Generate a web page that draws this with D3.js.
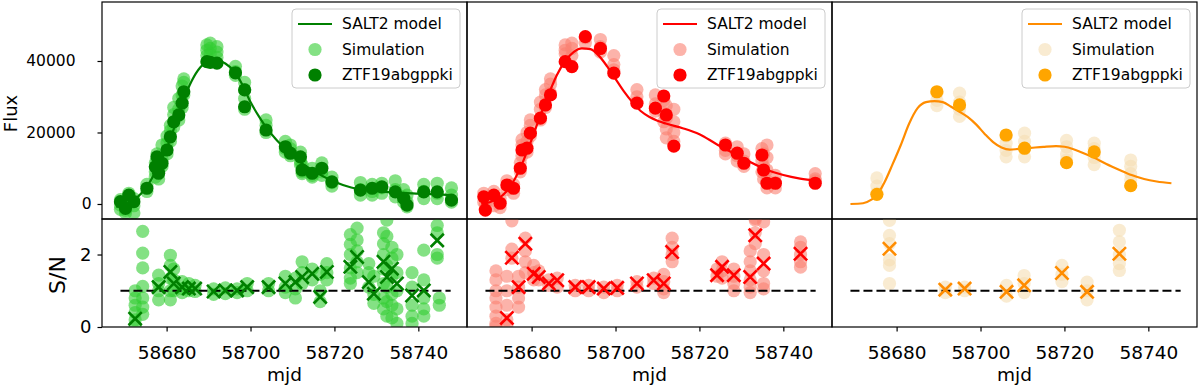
<!DOCTYPE html>
<html>
<head>
<meta charset="utf-8">
<script src="https://cdn.jsdelivr.net/npm/d3@7"></script>
<style>
  body { margin: 0; background: #fff; }
  svg { font-family: "DejaVu Sans", sans-serif; }
</style>
</head>
<body>
<svg></svg>
<script>
// ---- data ----
const xTicks = [58680, 58700, 58720, 58740];
const fluxTicks = [0, 20000, 40000];
const snTicks = [0, 2];
const legendLabels = ["SALT2 model", "Simulation", "ZTF19abgppki"];
const unityRange = [58669.0, 58747.7];

// g band
const gModelMjd = [58668, 58670, 58672, 58674, 58676, 58678, 58680, 58682, 58684, 58686, 58688, 58690, 58692, 58694, 58696, 58698, 58700, 58702, 58704, 58706, 58708, 58710, 58712, 58714, 58716, 58718, 58720, 58724, 58728, 58732, 58736, 58740, 58744, 58748];
const gModelFlux = [-800, -200, 1000, 3000, 6200, 10500, 15500, 22000, 29000, 34500, 38200, 40000, 40200, 39300, 37200, 33500, 28500, 24500, 21000, 18200, 15800, 13600, 11600, 10000, 8600, 7300, 6200, 4600, 3800, 3400, 3100, 2900, 2700, 2500];
const gObsMjd = [58669.0, 58670.2, 58671.0, 58672.2, 58675.3, 58677.3, 58677.7, 58678.1, 58678.9, 58680.1, 58680.9, 58681.7, 58682.9, 58683.7, 58684.1, 58689.6, 58690.4, 58692.0, 58696.4, 58698.6, 58698.6, 58703.7, 58708.3, 58709.5, 58711.9, 58712.3, 58714.7, 58717.0, 58719.4, 58726.2, 58729.0, 58731.3, 58734.5, 58736.5, 58737.3, 58741.3, 58744.5, 58747.9];
const gObsFlux = [650, -1200, 2500, 650, 4400, 10400, 13200, 8600, 11400, 15100, 18800, 23000, 24900, 28200, 31400, 39800, 39600, 39400, 36700, 31900, 27200, 20700, 16000, 14200, 13200, 9500, 8600, 10000, 6200, 3900, 4400, 4800, 3400, 1600, -300, 3400, 3400, 1100];
const gSimFlux = [
  [58669.0, [1200, -300, -1500]], [58670.2, [500, -1800, -2500]], [58671.0, [3000, 1500]],
  [58672.2, [1500, -500, -2500]], [58675.3, [5500, 3500]], [58677.3, [11500, 9000, 7500]],
  [58677.7, [14000, 12000]], [58678.1, [9500, 7000]], [58678.9, [12500, 10500, 16500]],
  [58680.1, [17000, 14000, 19000]], [58680.9, [20500, 17500, 22000]], [58681.7, [25000, 21500, 27000]],
  [58682.9, [26500, 23500, 29500]], [58683.7, [30500, 27000, 33000]], [58684.1, [34000, 30500, 35000]],
  [58689.6, [43000, 41500, 44500]], [58690.4, [43500, 42000, 45000]], [58692.0, [42500, 44000, 41000]],
  [58696.4, [38500, 37000, 36000]], [58698.6, [34000, 32000, 29500, 26500]], [58703.7, [23500, 22000, 20000]],
  [58708.3, [17500, 15500, 14500]], [58709.5, [15500, 13500, 16500]], [58711.9, [14500, 12000, 11000]],
  [58712.3, [11000, 9000, 8500]], [58714.7, [10000, 8000, 7500]], [58717.0, [11500, 9000, 8000]],
  [58719.4, [7500, 6000, 5000]], [58726.2, [6000, 4000, 2500]], [58729.0, [5500, 3500, 2500]],
  [58731.3, [5800, 4500, 3000]], [58734.5, [6500, 4000, 2000]], [58736.5, [4000, 2000, 500]],
  [58737.3, [2500, 500, -800]], [58741.3, [5500, 3500, 1500]], [58744.5, [5800, 3000, 1500]],
  [58747.9, [4500, 2500, 500]]
];
const gSnMjd = [58672.5, 58678.1, 58680.9, 58681.7, 58683.7, 58685.3, 58686.8, 58691.2, 58694.0, 58696.8, 58699.2, 58704.3, 58708.3, 58710.7, 58712.3, 58714.7, 58716.6, 58718.2, 58723.8, 58725.4, 58728.2, 58729.4, 58731.7, 58732.5, 58733.7, 58734.9, 58738.5, 58741.3, 58744.5];
const gSn = [0.23, 1.10, 1.52, 1.20, 1.10, 1.06, 1.06, 0.98, 1.01, 1.01, 1.10, 1.10, 1.20, 1.24, 1.38, 1.47, 0.83, 1.52, 1.66, 1.93, 1.24, 0.92, 1.80, 1.38, 1.61, 1.20, 0.87, 1.01, 2.39];
const gSimSn = [
  [58672.5, [1.0, 0.8, 0.6, 0.4, 0.2, 0.05]], [58674.3, [2.64, 2.04, 1.63, 1.12, 0.8, 0.55, 0.35]],
  [58678.1, [1.43, 1.2, 1.0, 0.75]], [58680.9, [1.98, 1.7, 1.34, 1.0, 0.75]], [58681.7, [1.6, 1.3, 1.0]],
  [58683.7, [1.25, 1.05, 0.95]], [58685.3, [1.2, 1.0]], [58686.8, [1.15, 0.98]], [58691.2, [1.05, 0.9]],
  [58694.0, [1.08, 0.92]], [58696.8, [1.05, 0.95]], [58699.2, [1.2, 1.0]], [58704.3, [1.2, 1.0]],
  [58708.3, [1.4, 1.1, 0.95]], [58710.7, [1.35, 1.05, 0.8]], [58712.3, [1.8, 1.5, 1.2]],
  [58714.7, [1.6, 1.3]], [58716.6, [1.45, 1.0, 0.7]], [58718.2, [1.75, 1.5, 1.3]],
  [58723.8, [2.55, 2.28, 2.0, 1.63, 1.35, 1.2]], [58725.4, [2.73, 2.4, 2.1, 1.8, 1.5]],
  [58728.2, [1.75, 1.5, 1.1]], [58729.4, [1.4, 0.9, 0.65]], [58731.7, [2.6, 2.3, 2.0, 1.6, 1.2, 0.8, 0.5]],
  [58732.5, [2.95, 2.5, 1.7, 1.1, 0.7, 0.3]], [58733.7, [2.2, 1.9, 1.4, 0.9, 0.6, 0.25]],
  [58734.9, [2.0, 1.5, 1.0, 0.5, 0.1]], [58738.5, [1.5, 1.1, 0.6, 0.3, 0.1]],
  [58741.3, [2.12, 1.3, 0.8, 0.5, 0.3]], [58744.5, [2.8, 2.6, 2.0, 1.9]], [58745.0, [0.8, 0.6]]
];

// r band
const rModelMjd = [58668, 58670, 58672, 58674, 58676, 58678, 58680, 58682, 58684, 58686, 58688, 58690, 58692, 58694, 58696, 58698, 58700, 58702, 58704, 58706, 58708, 58710, 58712, 58716, 58720, 58724, 58728, 58732, 58736, 58740, 58744, 58748];
const rModelFlux = [0, 500, 1500, 3500, 7000, 12000, 18000, 24500, 30500, 36000, 40000, 42500, 43500, 43300, 41500, 38500, 35000, 31500, 28500, 26000, 24400, 23300, 22500, 21200, 19500, 16800, 14300, 11800, 9600, 8100, 7100, 6500];
const rObsMjd = [58668.6, 58668.97, 58671.0, 58672.5, 58674.1, 58675.7, 58677.3, 58677.7, 58678.9, 58679.7, 58682.1, 58683.3, 58684.5, 58688.0, 58689.6, 58692.8, 58696.4, 58699.6, 58705.1, 58709.5, 58711.5, 58712.1, 58713.9, 58726.2, 58729.0, 58730.6, 58734.9, 58735.3, 58736.1, 58738.1, 58747.6];
const rObsFlux = [2000, -1700, 2500, 200, 5300, 4400, 10000, 15100, 15600, 19800, 24000, 27700, 30500, 39800, 38400, 46800, 43500, 36600, 28200, 26800, 30200, 24900, 16200, 16500, 14200, 11400, 13700, 9500, 5800, 5800, 5800];
const rSimFlux = [
  [58668.6, [3000, 500]], [58668.97, [0, -1500]], [58671.0, [3500, 1000, -500]], [58672.5, [1500, -1000]],
  [58674.1, [6500, 4000]], [58675.7, [5500, 3000]], [58677.3, [11500, 9000]], [58677.7, [16500, 13500, 18000]],
  [58678.9, [17500, 14500, 20000]], [58679.7, [22000, 19000, 23500]], [58682.1, [26500, 23500, 28500]],
  [58683.3, [30500, 27000, 32000]], [58684.5, [33500, 31000, 35000]], [58688.0, [44500, 43000, 42000]],
  [58689.6, [45000, 43500, 41500]], [58692.8, [46500, 45000]], [58696.4, [46000, 44000, 42500]],
  [58699.6, [41500, 39000, 37500]], [58705.1, [32000, 30000, 28500]], [58709.5, [30500, 28000, 26000]],
  [58711.5, [29000, 25500, 23000]], [58712.1, [27500, 24000, 21000, 18500]], [58713.9, [26500, 23000, 20000, 17500]],
  [58726.2, [17000, 15000, 14000]], [58729.0, [16000, 13500, 12000]], [58730.6, [14000, 12000, 10500]],
  [58734.9, [15500, 12000, 9000]], [58735.3, [14000, 10500, 7000]], [58736.1, [16500, 13000, 9500, 6500, 4500]],
  [58738.1, [8000, 6000, 4500]], [58747.6, [8500, 7000, 6500]]
];
const rSnMjd = [58674.1, 58675.3, 58676.9, 58678.5, 58680.5, 58681.7, 58684.1, 58686.1, 58690.4, 58693.6, 58697.2, 58700.4, 58705.1, 58709.1, 58711.5, 58713.5, 58724.2, 58725.4, 58728.2, 58732.1, 58733.3, 58735.3, 58744.1];
const rSn = [0.25, 1.91, 1.10, 2.30, 1.47, 1.38, 1.20, 1.29, 1.10, 1.10, 1.06, 1.08, 1.20, 1.29, 1.20, 2.07, 1.43, 1.66, 1.43, 1.38, 2.53, 1.75, 2.02];
const rSimSn = [
  [58671.5, [1.55, 1.3, 1.0, 0.8, 0.55, 0.3, 0.1, 0.02]], [58674.1, [1.4, 1.0, 0.6, 0.2, 0.05]],
  [58675.3, [2.93, 2.15, 1.9]], [58676.9, [1.4, 1.1, 0.8, 0.55]], [58678.5, [2.45, 2.1, 1.8, 1.5]],
  [58680.5, [1.7, 1.5, 1.3]], [58681.7, [1.55, 1.3]], [58684.1, [1.3, 1.15]], [58686.1, [1.35, 1.1]],
  [58690.4, [1.15, 1.0]], [58693.6, [1.15, 1.0]], [58697.2, [1.1, 0.95]], [58700.4, [1.15, 1.0]],
  [58705.1, [1.25, 1.1]], [58709.1, [1.35, 1.2]], [58711.5, [1.45, 1.25, 1.05, 0.95]],
  [58713.5, [2.45, 2.2, 2.0, 1.8]], [58724.2, [1.6, 1.4]], [58725.4, [1.8, 1.55, 1.35]],
  [58728.2, [1.6, 1.4, 1.2, 1.0]], [58732.1, [2.1, 1.8, 1.55, 1.3, 1.1, 0.95]],
  [58733.3, [3.0, 2.95, 2.6, 2.3]], [58735.3, [2.9, 2.0, 1.55, 1.2, 1.05]],
  [58744.1, [2.35, 2.2, 2.0, 1.8, 1.65]]
];

// i band
const iModelMjd = [58669, 58672, 58674, 58675, 58677, 58679, 58681, 58683, 58685, 58687, 58689, 58691, 58693, 58695, 58697, 58699, 58701, 58703, 58705, 58707, 58709, 58712, 58715, 58718, 58720, 58722, 58724, 58727, 58730, 58733, 58736, 58739, 58742, 58745.5];
const iModelFlux = [0, 200, 1200, 2100, 5800, 11000, 16500, 22500, 26800, 28500, 28800, 28500, 27200, 25800, 24300, 22200, 19600, 17300, 15800, 15200, 15400, 15700, 16000, 16200, 16000, 15400, 14500, 13000, 11200, 9600, 8100, 7000, 6300, 5800];
const iObsMjd = [58675.3, 58689.6, 58695.0, 58706.1, 58710.5, 58720.5, 58727.1, 58735.8];
const iObsFlux = [2700, 31400, 27700, 19300, 15600, 11550, 14550, 5120];
const iSimFlux = [
  [58675.3, [7300, 5000, 3000]], [58689.6, [31000, 29000, 27500]], [58695.0, [31000, 28500, 26500, 24500]],
  [58706.1, [19000, 17000, 15000, 13200]], [58710.5, [19800, 17500, 15500, 13200]],
  [58720.5, [17800, 16000, 14000, 12300]], [58727.1, [17000, 15500, 13000, 11000]],
  [58735.8, [12300, 10500, 8500, 6800]]
];
const iSnMjd = [58678.3, 58691.6, 58696.2, 58706.2, 58710.4, 58719.4, 58725.4, 58733.1];
const iSn = [2.16, 1.03, 1.06, 0.97, 1.15, 1.49, 0.97, 2.02];
const iSimSn = [
  [58678.3, [2.94, 2.53, 2.3, 1.85, 1.7, 1.2]], [58691.6, [1.1, 0.95]], [58696.2, [1.1, 1.0]],
  [58706.2, [1.15, 0.85]], [58710.4, [1.42, 1.2, 0.95]], [58719.4, [1.7, 1.45, 1.25]],
  [58725.4, [1.24, 1.0, 0.75]], [58733.1, [2.67, 2.35, 2.0, 1.75, 1.56]]
];

const bands = [
  { modelMjd: gModelMjd, modelFlux: gModelFlux, obsMjd: gObsMjd, obsFlux: gObsFlux, simFlux: gSimFlux,
    snMjd: gSnMjd, sn: gSn, simSn: gSimSn, line: "green", dot: "green", cross: "green", sim: "limegreen", simAlpha: 0.6 },
  { modelMjd: rModelMjd, modelFlux: rModelFlux, obsMjd: rObsMjd, obsFlux: rObsFlux, simFlux: rSimFlux,
    snMjd: rSnMjd, sn: rSn, simSn: rSimSn, line: "red", dot: "red", cross: "red", sim: "salmon", simAlpha: 0.6 },
  { modelMjd: iModelMjd, modelFlux: iModelFlux, obsMjd: iObsMjd, obsFlux: iObsFlux, simFlux: iSimFlux,
    snMjd: iSnMjd, sn: iSn, simSn: iSimSn, line: "darkorange", dot: "orange", cross: "darkorange", sim: "wheat", simAlpha: 0.6 }
];

// ---- layout ----
const width = 1200, height = 387;
const panelLeft = [102, 467, 832];
const panelW = 365;
const topY = 2, topH = 217, botY = 219, botH = 108;
const r = 6.6;
const font = "DejaVu Sans, sans-serif";

const svg = d3.select("svg").attr("width", width).attr("height", height);

const x = d3.scaleLinear().domain([58664.6, 58751.6]).range([0, panelW]);
const yFlux = d3.scaleLinear().domain([-4200, 56500]).range([topH, 0]);
const ySn = d3.scaleLinear().domain([0, 2.98]).range([botH, 0]);

const lineGenerator = d3
  .line()
  .x((_d) => x(_d[0]))
  .y((_d) => yFlux(_d[1]))
  .curve(d3.curveMonotoneX);

const crossPath = `M${-r},${-r}L${r},${r}M${-r},${r}L${r},${-r}`;

const defs = svg.append("defs");

bands.forEach((band, bi) => {
  const left = panelLeft[bi];

  defs.append("clipPath").attr("id", `clipTop${bi}`)
    .append("rect").attr("width", panelW).attr("height", topH);
  defs.append("clipPath").attr("id", `clipBot${bi}`)
    .append("rect").attr("width", panelW).attr("height", botH);

  // ---------- top panel ----------
  const topG = svg.append("g").attr("transform", `translate(${left}, ${topY})`);
  const topPlot = topG.append("g").attr("clip-path", `url(#clipTop${bi})`);

  topPlot.selectAll("circle.sim")
    .data(band.simFlux.flatMap((_d) => _d[1].map((v) => [_d[0], v])))
    .enter()
    .append("circle")
    .attr("class", "sim")
    .attr("cx", (_d) => x(_d[0]))
    .attr("cy", (_d) => yFlux(_d[1]))
    .attr("r", r)
    .style("fill", band.sim)
    .style("fill-opacity", band.simAlpha);

  topPlot.append("path")
    .datum(d3.zip(band.modelMjd, band.modelFlux))
    .attr("d", lineGenerator)
    .style("fill", "none")
    .style("stroke", band.line)
    .style("stroke-width", 2.2);

  topPlot.selectAll("circle.obs")
    .data(d3.zip(band.obsMjd, band.obsFlux))
    .enter()
    .append("circle")
    .attr("class", "obs")
    .attr("cx", (_d) => x(_d[0]))
    .attr("cy", (_d) => yFlux(_d[1]))
    .attr("r", r)
    .style("fill", band.dot);

  // legend
  const legend = topG.append("g").attr("transform", `translate(${panelW - 175}, 7)`);
  legend.append("rect")
    .attr("width", 168).attr("height", 79).attr("rx", 4)
    .style("fill", "white").style("fill-opacity", 0.8)
    .style("stroke", "#cccccc").style("stroke-width", 1);
  legend.append("line")
    .attr("x1", 6).attr("x2", 40).attr("y1", 15).attr("y2", 15)
    .style("stroke", band.line).style("stroke-width", 2.2);
  legend.append("circle").attr("cx", 23).attr("cy", 40.5).attr("r", r)
    .style("fill", band.sim).style("fill-opacity", band.simAlpha);
  legend.append("circle").attr("cx", 23).attr("cy", 66).attr("r", r)
    .style("fill", band.dot);
  legend.selectAll("text")
    .data(legendLabels)
    .enter()
    .append("text")
    .attr("x", 50)
    .attr("y", (_d, _i) => 15 + _i * 25.5)
    .attr("dy", "0.35em")
    .style("font-size", "15.5px")
    .text((_d) => _d);

  topG.append("rect")
    .attr("width", panelW).attr("height", topH)
    .style("fill", "none").style("stroke", "black").style("stroke-width", 1.2);

  // ---------- bottom panel ----------
  const botG = svg.append("g").attr("transform", `translate(${left}, ${botY})`);
  const botPlot = botG.append("g").attr("clip-path", `url(#clipBot${bi})`);

  botPlot.selectAll("circle.sim")
    .data(band.simSn.flatMap((_d) => _d[1].map((v) => [_d[0], v])))
    .enter()
    .append("circle")
    .attr("class", "sim")
    .attr("cx", (_d) => x(_d[0]))
    .attr("cy", (_d) => ySn(_d[1]))
    .attr("r", r)
    .style("fill", band.sim)
    .style("fill-opacity", band.simAlpha);

  botPlot.append("line")
    .attr("x1", x(unityRange[0])).attr("x2", x(unityRange[1]))
    .attr("y1", ySn(1)).attr("y2", ySn(1))
    .style("stroke", "black").style("stroke-width", 2.2)
    .style("stroke-dasharray", "9,4");

  botPlot.selectAll("path.cross")
    .data(d3.zip(band.snMjd, band.sn))
    .enter()
    .append("path")
    .attr("class", "cross")
    .attr("transform", (_d) => `translate(${x(_d[0])}, ${ySn(_d[1])})`)
    .attr("d", crossPath)
    .style("fill", "none")
    .style("stroke", band.cross)
    .style("stroke-width", 2.6);

  botG.append("rect")
    .attr("width", panelW).attr("height", botH)
    .style("fill", "none").style("stroke", "black").style("stroke-width", 1.2);

  const xAxis = botG.append("g")
    .attr("transform", `translate(0, ${botH})`)
    .call(d3.axisBottom(x).tickValues(xTicks).tickSize(4.5).tickPadding(6).tickFormat(d3.format("d")));
  xAxis.attr("font-family", font);
  xAxis.select(".domain").remove();
  xAxis.selectAll("line").style("stroke-width", 1.2);
  xAxis.selectAll("text").style("font-size", "18.5px").attr("y", 18.5).attr("fill", "black");

  botG.append("text")
    .attr("x", panelW / 2)
    .attr("y", 162)
    .attr("text-anchor", "middle")
    .style("font-size", "18.5px")
    .text("mjd");

  if (bi === 0) {
    const yAxisTop = topG.append("g")
      .call(d3.axisLeft(yFlux).tickValues(fluxTicks).tickSize(4.5).tickPadding(6).tickFormat(d3.format("d")));
    yAxisTop.attr("font-family", font);
    yAxisTop.select(".domain").remove();
    yAxisTop.selectAll("line").style("stroke-width", 1.2);
    yAxisTop.selectAll("text")
      .style("font-size", "15.5px")
      .attr("fill", "black")
      .attr("x", (_d) => (_d === 0 ? -10.5 : -26.5));

    const yAxisBot = botG.append("g")
      .call(d3.axisLeft(ySn).tickValues(snTicks).tickSize(4.5).tickPadding(6).tickFormat(d3.format("d")));
    yAxisBot.attr("font-family", font);
    yAxisBot.select(".domain").remove();
    yAxisBot.selectAll("line").style("stroke-width", 1.2);
    yAxisBot.selectAll("text").style("font-size", "18px").attr("fill", "black");

    topG.append("text")
      .attr("transform", `translate(${17 - left}, ${topH / 2 + 3}) rotate(-90)`)
      .attr("text-anchor", "middle")
      .style("font-size", "18px")
      .text("Flux");

    botG.append("text")
      .attr("transform", `translate(${65 - left}, ${botH / 2 + 2}) rotate(-90)`)
      .attr("text-anchor", "middle")
      .style("font-size", "22px")
      .text("S/N");
  }
});
</script>
</body>
</html>
